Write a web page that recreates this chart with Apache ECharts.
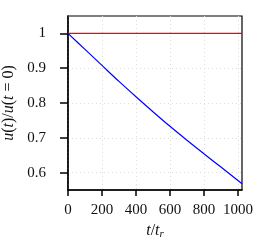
<!DOCTYPE html>
<html>
<head>
<meta charset="utf-8">
<script src="https://cdn.jsdelivr.net/npm/echarts@6/dist/echarts.min.js"></script>
<style>html,body{margin:0;padding:0;background:#fff}#c{width:266px;height:245px}</style>
</head>
<body>
<div id="c"></div>
<script>
var tValues = [0, 100, 200, 300, 400, 500, 600, 700, 800, 900, 1024];
var uValues = [1.000, 0.954, 0.908, 0.862, 0.818, 0.775, 0.733, 0.693, 0.654, 0.616, 0.568];
var refT = [0, 1024];
var refU = [1.0, 1.0];
var xTicks = [0, 200, 400, 600, 800, 1000];
var yTicks = [0.6, 0.7, 0.8, 0.9, 1.0];

var font = 'Liberation Serif';
var txt = '#111';
var chart = echarts.init(document.getElementById('c'), null, {renderer: 'canvas'});
function pairs(a, b) { return a.map(function (v, i) { return [v, b[i]]; }); }
chart.setOption({
  animation: false,
  grid: {left: 68, right: 24, top: 16, bottom: 55, containLabel: false, outerBoundsMode: 'none',
    show: true, borderColor: '#000', borderWidth: 1.2, backgroundColor: 'transparent'},
  xAxis: {
    type: 'value', min: 0, max: 1024,
    name: '{i|t}{n|/}{i|t}{s|r}', nameLocation: 'middle', nameGap: 32,
    nameTextStyle: {rich: {
      i: {fontFamily: font, fontStyle: 'italic', fontSize: 16, color: txt},
      n: {fontFamily: font, fontSize: 16, color: txt},
      s: {fontFamily: font, fontStyle: 'italic', fontSize: 11, color: txt, verticalAlign: 'bottom', padding: [6, 0, 0, 0]}
    }},
    axisLine: {lineStyle: {color: '#000', width: 1.5}},
    axisTick: {show: true, length: 6, customValues: xTicks, lineStyle: {color: '#000', width: 1.5}},
    axisLabel: {customValues: xTicks, margin: 13, fontFamily: font, fontSize: 15, color: txt,
      formatter: function (v) { return String(v); }},
    splitLine: {show: true, lineStyle: {color: '#dcdcdc', type: [1, 3], width: 1}}
  },
  yAxis: {
    type: 'value', min: 0.55, max: 1.05,
    name: '{i|u}{n|(}{i|t}{n|)/}{i|u}{n|(}{i|t}{n| = 0)}', nameLocation: 'middle', nameGap: 45, nameRotate: 90,
    nameTextStyle: {rich: {
      i: {fontFamily: font, fontStyle: 'italic', fontSize: 16, color: txt},
      n: {fontFamily: font, fontSize: 16, color: txt}
    }},
    axisLine: {lineStyle: {color: '#000', width: 1.5}},
    axisTick: {show: true, length: 8, customValues: yTicks, lineStyle: {color: '#000', width: 1.5}},
    axisLabel: {customValues: yTicks, margin: 22, fontFamily: font, fontSize: 15, color: txt,
      formatter: function (v) { return Math.abs(v - 1) < 1e-9 ? '1' : v.toFixed(1); }},
    splitLine: {show: true, lineStyle: {color: '#dcdcdc', type: [1, 3], width: 1}}
  },
  series: [
    {type: 'line', data: pairs(refT, refU), symbol: 'none', lineStyle: {color: '#ff0000', width: 1.2}, z: 3},
    {type: 'line', data: pairs(tValues, uValues), symbol: 'none', smooth: 0.3, lineStyle: {color: '#0000ff', width: 1.2}, z: 4}
  ]
});
</script>
</body>
</html>
